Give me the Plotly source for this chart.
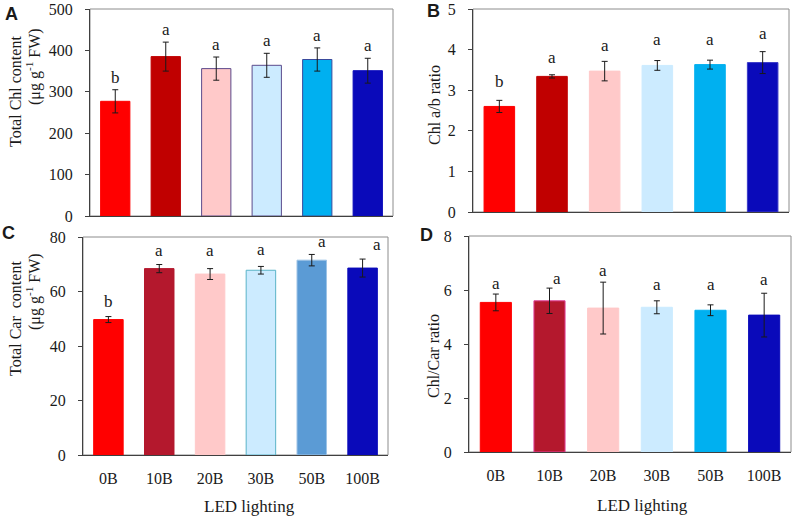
import plotly.graph_objects as go

categories = ["0B", "10B", "20B", "30B", "50B", "100B"]

chl_total = [277, 385, 356, 364, 378, 351]
chl_total_err = [28, 35, 28, 29, 28, 30]
chl_total_letters = ["b", "a", "a", "a", "a", "a"]

chl_ab = [2.60, 3.34, 3.47, 3.61, 3.63, 3.68]
chl_ab_err = [0.15, 0.04, 0.24, 0.12, 0.11, 0.27]
chl_ab_letters = ["b", "a", "a", "a", "a", "a"]

car_total = [49.7, 68.4, 66.4, 67.8, 71.5, 68.6]
car_total_err = [1.1, 1.5, 2.0, 1.4, 2.1, 3.3]
car_total_letters = ["b", "a", "a", "a", "a", "a"]

chl_car = [5.54, 5.60, 5.33, 5.36, 5.25, 5.07]
chl_car_err = [0.31, 0.47, 0.96, 0.24, 0.20, 0.81]
chl_car_letters = ["a", "a", "a", "a", "a", "a"]

W, H = 800, 524
def px_x(p):
    return p / W
def px_y(p):
    return 1 - p / H

serif = "Liberation Serif, Times New Roman, serif"

panels = [
    dict(vals=chl_total, errs=chl_total_err, letters=chl_total_letters,
         dom_x=(90, 393), dom_y=(9, 216), rng=[0, 500], dtick=100,
         fills=['#FF0000', '#C00000', '#FFC9C9', '#CCEBFF', '#00B0F0', '#0A0ABA'],
         lines=['#FF0000', '#C00000', '#5B4A8C', '#5B4A8C', '#3A4A9C', '#0A0ABA'],
         yshift=[1, 1, 1, 1, 1, 1], xshift=[0, 0, 0, 0, 0, 0], showx=False),
    dict(vals=chl_ab, errs=chl_ab_err, letters=chl_ab_letters,
         dom_x=(473, 789), dom_y=(9, 212), rng=[0, 5], dtick=1,
         fills=['#FF0000', '#C00000', '#FFC9C9', '#CCEBFF', '#00B0F0', '#0A0ABA'],
         lines=['#FF0000', '#C00000', '#FFC9C9', '#CCEBFF', '#00B0F0', '#3A3AC8'],
         yshift=[7, 6, 4, 10, 9, 7], xshift=[0, 0, 0, 0, 0, 0], showx=False),
    dict(vals=car_total, errs=car_total_err, letters=car_total_letters,
         dom_x=(83, 388), dom_y=(237, 455), rng=[0, 80], dtick=20,
         fills=['#FF0000', '#B4182D', '#FFC9C9', '#CCEBFF', '#5B9BD5', '#0A0ABA'],
         lines=['#FF0000', '#B4182D', '#FFC9C9', '#5AB4C8', '#9DC3E6', '#0A0ABA'],
         yshift=[4, 3, 7, 5, 1, 3], xshift=[0, 0, 0, 0, 10, 14], showx=True),
    dict(vals=chl_car, errs=chl_car_err, letters=chl_car_letters,
         dom_x=(469, 791), dom_y=(236, 452), rng=[0, 8], dtick=2,
         fills=['#FF0000', '#B4182D', '#FFC9C9', '#CCEBFF', '#00B0F0', '#0A0ABA'],
         lines=['#FF0000', '#E0409A', '#FFC9C9', '#CCEBFF', '#00B0F0', '#0A0ABA'],
         yshift=[-1, -2, 0, 5, 9, 2], xshift=[0, 7, 0, 0, 0, 0], showx=True),
]

fig = go.Figure()
annotations = []
shapes = []
for k, p in enumerate(panels):
    n = "" if k == 0 else str(k + 1)
    xa, ya = "x" + n, "y" + n
    fig.add_trace(go.Bar(
        x=categories, y=p["vals"], xaxis=xa, yaxis=ya, width=0.58,
        marker=dict(color=p["fills"], line=dict(color=p["lines"], width=1)),
        error_y=dict(type="data", array=p["errs"], color="#1a1a1a", thickness=1, width=3),
        showlegend=False, hoverinfo="skip"))
    fig.layout["xaxis" + n] = dict(
        domain=[px_x(p["dom_x"][0]), px_x(p["dom_x"][1])],
        anchor=ya, range=[-0.5, 5.5], type="category", automargin=False,
        showline=True, linecolor="#404040", linewidth=1, ticks="",
        showticklabels=p["showx"], tickfont=dict(family=serif, size=16, color="#1a1a1a"),
        ticklabelstandoff=9, showgrid=False, zeroline=False, fixedrange=True)
    fig.layout["yaxis" + n] = dict(
        domain=[px_y(p["dom_y"][1]), px_y(p["dom_y"][0])],
        anchor=xa, range=p["rng"], dtick=p["dtick"], automargin=False,
        showline=True, linecolor="#404040", linewidth=1, ticks="outside", ticklen=4,
        tickcolor="#404040", tickfont=dict(family=serif, size=16, color="#1a1a1a"),
        ticklabelstandoff=9, showgrid=False, zeroline=False, fixedrange=True)
    shapes.append(dict(type="rect", xref="paper", yref="paper",
                       x0=px_x(p["dom_x"][0]), x1=px_x(p["dom_x"][1]),
                       y0=px_y(p["dom_y"][1]), y1=px_y(p["dom_y"][0]),
                       line=dict(color="#8c8c8c", width=1), layer="below"))
    for i, c in enumerate(categories):
        annotations.append(dict(
            x=c, y=p["vals"][i] + p["errs"][i], xref=xa, yref=ya,
            text=p["letters"][i], showarrow=False, yanchor="bottom",
            yshift=p["yshift"][i], xshift=p["xshift"][i],
            font=dict(family=serif, size=17, color="#1a1a1a")))

def txt(x, y, text, size=16, angle=0, bold=False):
    fam = "Liberation Sans, Arial, sans-serif" if bold else serif
    if bold:
        text = "<b>" + text + "</b>"
    annotations.append(dict(x=px_x(x), y=px_y(y), xref="paper", yref="paper",
                            text=text, showarrow=False, textangle=angle,
                            xanchor="center", yanchor="middle",
                            font=dict(family=fam, size=size, color="#1a1a1a")))

# y-axis titles
txt(16, 92, "Total Chl content", angle=-90)
txt(33, 67, "(μg g<sup>-1</sup> FW)", angle=-90)
txt(435, 105, "Chl a/b ratio", angle=-90)
txt(15, 319, "Total Car  content", angle=-90)
txt(33, 292, "(μg g<sup>-1</sup> FW)", angle=-90)
txt(433, 356, "Chl/Car ratio", angle=-90)
# x-axis titles
txt(249, 506, "LED lighting", size=17)
txt(642, 505, "LED lighting", size=17)
# panel letters
txt(11, 14, "A", size=18, bold=True)
txt(433, 11, "B", size=18, bold=True)
txt(8, 233, "C", size=18, bold=True)
txt(427, 235, "D", size=18, bold=True)

fig.update_layout(
    width=W, height=H, margin=dict(l=0, r=0, t=0, b=0),
    paper_bgcolor="white", plot_bgcolor="white",
    annotations=annotations, shapes=shapes, bargap=0.42)

fig.write_html("out.html", config={"displayModeBar": False},
               post_script="document.body.style.margin='0';document.body.style.overflow='hidden';")
